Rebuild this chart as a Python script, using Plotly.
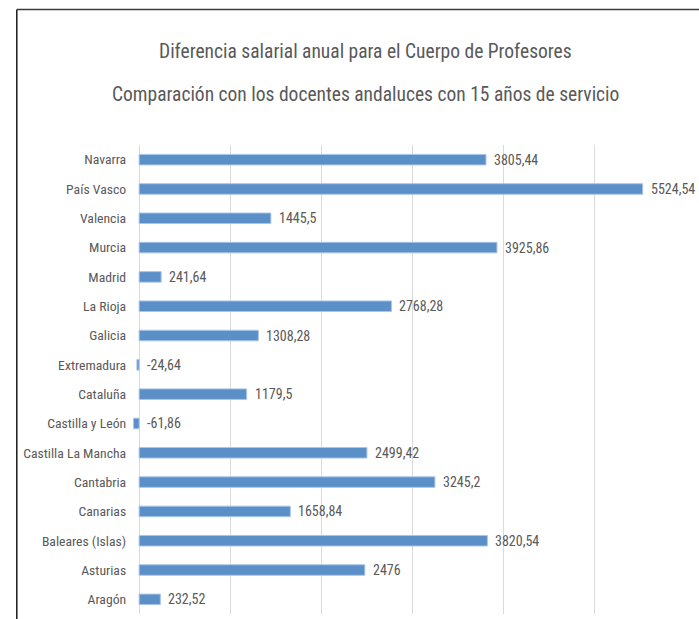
import plotly.graph_objects as go

categories = ["Navarra", "País Vasco", "Valencia", "Murcia", "Madrid", "La Rioja",
              "Galicia", "Extremadura", "Cataluña", "Castilla y León",
              "Castilla La Mancha", "Cantabria", "Canarias", "Baleares (Islas)",
              "Asturias", "Aragón"]
values = [3805.44, 5524.54, 1445.5, 3925.86, 241.64, 2768.28, 1308.28, -24.64,
          1179.5, -61.86, 2499.42, 3245.2, 1658.84, 3820.54, 2476, 232.52]
value_labels = [f"{v:g}".replace(".", ",") for v in values]
title_lines = ["Diferencia salarial anual para el Cuerpo de Profesores",
               "Comparación con los docentes andaluces con 15 años de servicio"]

W, H = 699, 619
ML, MR, MT, MB = 47.7, 13.3, 145.4, 5.3
PW, PH = W - ML - MR, H - MT - MB
XMIN, XMAX = -1000, 6000

FONT = "Roboto Condensed, Roboto, sans-serif"
GRAY = "#595959"

def px_to_paper_x(px):
    return (px - ML) / PW

def px_to_paper_y(py):
    return (H - MB - py) / PH

fig = go.Figure()
fig.add_trace(go.Bar(
    x=values, y=categories, orientation="h",
    marker=dict(color="#5B8FC8", line=dict(color="#A9C6E6", width=1)),
    width=0.36, hoverinfo="skip",
))

annotations = []
for c, v, t in zip(categories, values, value_labels):
    annotations.append(dict(x=max(v, 0), y=c, xref="x", yref="y", text=t,
                            showarrow=False, xanchor="left", xshift=6,
                            font=dict(family=FONT, size=14, color=GRAY)))
for i, (line, py) in enumerate(zip(title_lines, [52, 95])):
    annotations.append(dict(x=px_to_paper_x(365), y=px_to_paper_y(py),
                            xref="paper", yref="paper", text=line,
                            showarrow=False, xanchor="center", yanchor="middle",
                            font=dict(family=FONT, size=19.5, color=GRAY)))

zero_pos = (0 - XMIN) / (XMAX - XMIN)

fig.update_layout(
    width=W, height=H,
    margin=dict(l=ML, r=MR, t=MT, b=MB, pad=0),
    paper_bgcolor="white", plot_bgcolor="white",
    showlegend=False,
    bargap=0.64,
    xaxis=dict(range=[XMIN, XMAX], dtick=1000, showgrid=True, gridcolor="#D9D9D9",
               gridwidth=1, zeroline=True, zerolinecolor="#D9D9D9", zerolinewidth=1,
               showticklabels=False, ticks="", showline=False, fixedrange=True),
    yaxis=dict(autorange="reversed", anchor="free", position=zero_pos,
               showgrid=False, zeroline=False, showline=False, ticks="",
               ticklabelstandoff=13,
               tickfont=dict(family=FONT, size=13.7, color=GRAY), fixedrange=True),
    annotations=annotations,
    shapes=[
        dict(type="line", xref="paper", yref="paper",
             x0=px_to_paper_x(16.5), x1=px_to_paper_x(16.5),
             y0=px_to_paper_y(10), y1=px_to_paper_y(H + 5),
             line=dict(color="#1a1a1a", width=1.5)),
        dict(type="line", xref="paper", yref="paper",
             x0=px_to_paper_x(16.5), x1=px_to_paper_x(W + 5),
             y0=px_to_paper_y(10), y1=px_to_paper_y(10),
             line=dict(color="#3a3a3a", width=1.5)),
    ],
)

fig.write_html("out.html", config={"displayModeBar": False},
               post_script="document.body.style.margin='0';")
